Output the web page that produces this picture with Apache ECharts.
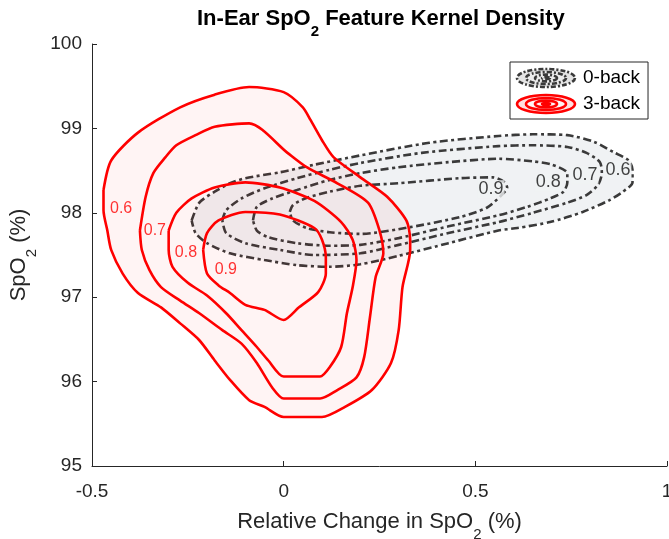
<!DOCTYPE html>
<html>
<head>
<meta charset="utf-8">
<script src="https://cdn.jsdelivr.net/npm/echarts@6/dist/echarts.min.js"></script>
<style>
  html, body { margin: 0; padding: 0; background: #fff; }
  #main { width: 669px; height: 539px; }
</style>
</head>
<body>
<div id="main"></div>
<script>
// contour rings, [relative change, SpO2]
var black06 = [[-0.24,97.91],[-0.22,98.12],[-0.18,98.25],[-0.14,98.35],[-0.10,98.41],[-0.01,98.48],[0.08,98.57],[0.20,98.68],[0.38,98.83],[0.56,98.91],[0.65,98.93],[0.74,98.92],[0.81,98.84],[0.86,98.72],[0.90,98.62],[0.91,98.51],[0.91,98.36],[0.885,98.25],[0.85,98.15],[0.78,98.01],[0.695,97.89],[0.61,97.82],[0.56,97.79],[0.43,97.64],[0.30,97.49],[0.20,97.39],[0.12,97.36],[0.035,97.38],[-0.05,97.44],[-0.14,97.52],[-0.20,97.64],[-0.23,97.76],[-0.24,97.91]];
var black07 = [[-0.16,97.91],[-0.15,98.03],[-0.11,98.17],[-0.05,98.29],[0.035,98.41],[0.12,98.51],[0.20,98.59],[0.36,98.71],[0.56,98.79],[0.65,98.80],[0.74,98.78],[0.79,98.71],[0.825,98.60],[0.83,98.47],[0.82,98.33],[0.79,98.21],[0.74,98.12],[0.65,98.00],[0.56,97.89],[0.43,97.76],[0.30,97.62],[0.20,97.52],[0.08,97.50],[-0.01,97.56],[-0.10,97.64],[-0.15,97.76],[-0.16,97.91]];
var black08 = [[-0.08,97.91],[-0.07,98.07],[-0.03,98.17],[0.035,98.27],[0.12,98.39],[0.20,98.47],[0.30,98.54],[0.43,98.60],[0.56,98.64],[0.65,98.61],[0.70,98.57],[0.74,98.47],[0.74,98.36],[0.73,98.25],[0.695,98.17],[0.635,98.07],[0.56,97.97],[0.43,97.84],[0.30,97.70],[0.20,97.62],[0.12,97.61],[0.035,97.64],[-0.04,97.71],[-0.07,97.79],[-0.08,97.91]];
var black09 = [[0.016,98.01],[0.024,98.09],[0.056,98.17],[0.12,98.25],[0.20,98.32],[0.30,98.35],[0.46,98.41],[0.546,98.42],[0.577,98.36],[0.583,98.30],[0.564,98.19],[0.53,98.06],[0.46,97.95],[0.33,97.83],[0.20,97.75],[0.12,97.77],[0.06,97.82],[0.024,97.91],[0.016,98.01]];

var red06 = [[-0.47,98.27],[-0.45,98.62],[-0.38,98.95],[-0.27,99.25],[-0.18,99.40],[-0.09,99.49],[0.00,99.43],[0.05,99.25],[0.07,99.10],[0.10,98.86],[0.13,98.66],[0.20,98.42],[0.27,98.19],[0.32,97.91],[0.33,97.68],[0.33,97.56],[0.31,97.12],[0.30,96.61],[0.28,96.22],[0.23,95.90],[0.16,95.70],[0.10,95.58],[0.00,95.58],[-0.05,95.70],[-0.09,95.78],[-0.14,96.02],[-0.18,96.25],[-0.22,96.49],[-0.27,96.69],[-0.32,96.88],[-0.38,97.05],[-0.42,97.28],[-0.45,97.56],[-0.46,97.79],[-0.47,98.03],[-0.47,98.27]];
var red07 = [[-0.375,97.79],[-0.36,98.19],[-0.34,98.47],[-0.31,98.65],[-0.28,98.80],[-0.23,98.92],[-0.18,99.02],[-0.09,99.06],[0.01,98.71],[0.06,98.54],[0.14,98.35],[0.22,98.12],[0.25,97.79],[0.26,97.52],[0.24,97.24],[0.225,96.76],[0.21,96.29],[0.19,96.05],[0.14,95.90],[0.095,95.80],[0.00,95.80],[-0.03,95.93],[-0.07,96.22],[-0.11,96.45],[-0.16,96.61],[-0.22,96.81],[-0.27,96.96],[-0.32,97.12],[-0.35,97.32],[-0.37,97.56],[-0.375,97.79]];
var red08 = [[-0.30,97.79],[-0.28,98.00],[-0.24,98.17],[-0.18,98.30],[-0.10,98.36],[-0.01,98.30],[0.08,98.14],[0.15,97.89],[0.18,97.68],[0.19,97.44],[0.18,97.12],[0.165,96.81],[0.15,96.41],[0.12,96.17],[0.095,96.06],[0.00,96.06],[-0.04,96.25],[-0.07,96.41],[-0.11,96.61],[-0.15,96.81],[-0.20,97.02],[-0.25,97.17],[-0.29,97.36],[-0.30,97.56],[-0.30,97.79]];
var red09 = [[-0.21,97.56],[-0.20,97.76],[-0.17,97.91],[-0.10,98.01],[-0.01,97.98],[0.08,97.82],[0.10,97.68],[0.11,97.47],[0.11,97.28],[0.09,97.06],[0.04,96.88],[0.00,96.73],[-0.05,96.85],[-0.10,96.91],[-0.14,97.05],[-0.17,97.14],[-0.20,97.28],[-0.21,97.56]];

// contour level labels [x, y, text]
var blackLabels = [[0.541,98.28,'0.9'],[0.69,98.36,'0.8'],[0.786,98.45,'0.7'],[0.872,98.51,'0.6']];
var redLabels = [[-0.424,98.05,'0.6'],[-0.336,97.79,'0.7'],[-0.255,97.53,'0.8'],[-0.151,97.33,'0.9']];

var xTicks = [-0.5, 0, 0.5, 1];
var yTicks = [95, 96, 97, 98, 99, 100];
var groupNames = ['0-back', '3-back'];

var FONT = 'Liberation Sans, Arial, Helvetica, sans-serif';
var AX = '#262626';
var BLK = '#3a3a3a';
var RED = '#ff0000';

function svgIcon(stroke, fill, inner, dash) {
  var d = dash ? ' stroke-dasharray="5 2 2 2"' : '';
  var s = '<svg xmlns="http://www.w3.org/2000/svg" width="64" height="22">' +
    '<g stroke="' + stroke + '" stroke-width="2.6"' + d + '>' +
    '<ellipse cx="32" cy="11" rx="29" ry="9" fill="' + fill + '"/>' +
    '<ellipse cx="32" cy="11" rx="20" ry="6" fill="' + inner + '"/>' +
    '<ellipse cx="32" cy="11" rx="11" ry="3.4" fill="' + inner + '"/>' +
    '<ellipse cx="32" cy="11" rx="4" ry="1" fill="' + inner + '"/>' +
    '</g></svg>';
  return 'image://data:image/svg+xml;charset=utf-8,' + encodeURIComponent(s);
}

function fillSeries(name, ring, color, z) {
  return {
    name: name,
    type: 'custom',
    z: z,
    clip: false,
    silent: true,
    data: [[0, 0]],
    renderItem: function (params, api) {
      var pts = ring.map(function (p) { return api.coord(p); });
      return { type: 'polygon', shape: { points: pts }, style: { fill: color } };
    }
  };
}

function ringSeries(name, ring, color, dash, z) {
  return {
    name: name,
    type: 'line',
    z: z,
    data: ring,
    smooth: 0.25,
    symbol: 'none',
    silent: true,
    lineStyle: { color: color, width: 2.6, type: dash ? [8, 3.5, 3, 3.5] : 'solid', cap: 'butt' }
  };
}

function labelSeries(list, color, bg, size, z) {
  return {
    type: 'scatter',
    z: z,
    symbolSize: 0,
    silent: true,
    data: list.map(function (d) { return { value: [d[0], d[1]], name: d[2] }; }),
    label: {
      show: true,
      position: 'inside',
      formatter: '{b}',
      color: color,
      fontSize: size,
      fontFamily: FONT,
      backgroundColor: bg,
      padding: [0, 1]
    }
  };
}

function subRich(size, subSize, weight, color) {
  return {
    n: { fontSize: size, fontWeight: weight, fontFamily: FONT, color: color, lineHeight: size + 4, verticalAlign: 'top' },
    s: { fontSize: subSize, fontWeight: weight, fontFamily: FONT, color: color, lineHeight: subSize, padding: [Math.round(size * 0.72), 0, 0, 0], verticalAlign: 'top' }
  };
}

var chart = echarts.init(document.getElementById('main'), null, { renderer: 'canvas' });

var series = [
  fillSeries(groupNames[0], black06, '#f0f2f4', 1),
  ringSeries(groupNames[0], black06, BLK, true, 2),
  ringSeries(groupNames[0], black07, BLK, true, 2),
  ringSeries(groupNames[0], black08, BLK, true, 2),
  ringSeries(groupNames[0], black09, BLK, true, 2),
  labelSeries(blackLabels, '#111', '#f0f2f4', 18, 3),
  fillSeries(groupNames[1], red06, 'rgba(255,0,0,0.045)', 4),
  ringSeries(groupNames[1], red06, RED, false, 5),
  ringSeries(groupNames[1], red07, RED, false, 5),
  ringSeries(groupNames[1], red08, RED, false, 5),
  ringSeries(groupNames[1], red09, RED, false, 5),
  labelSeries(redLabels, RED, null, 16, 6)
];

chart.setOption({
  animation: false,
  backgroundColor: '#fff',
  title: {
    text: '{n|In-Ear SpO}{s|2}{n| Feature Kernel Density}',
    left: 197,
    top: 8,
    padding: 0,
    textStyle: { rich: subRich(22, 15, 'bold', '#000') }
  },
  legend: {
    orient: 'vertical',
    left: 510,
    top: 62,
    padding: [5, 8, 4, 4],
    itemGap: 4,
    itemWidth: 64,
    itemHeight: 22,
    borderColor: AX,
    borderWidth: 1,
    backgroundColor: '#fff',
    textStyle: { fontSize: 19, fontFamily: FONT, color: '#000' },
    data: [
      { name: groupNames[0], icon: svgIcon(BLK, '#e4e4e4', '#ececec', true) },
      { name: groupNames[1], icon: svgIcon(RED, '#ffe0e0', '#fff4f4', false) }
    ]
  },
  grid: { left: 92, right: 2, top: 44, bottom: 73, containLabel: false, outerBoundsMode: 'none' },
  xAxis: {
    type: 'value',
    min: xTicks[0],
    max: xTicks[xTicks.length - 1],
    interval: 0.5,
    name: '{n|Relative Change in SpO}{s|2}{n| (%)}',
    nameLocation: 'middle',
    nameGap: 45,
    nameTextStyle: { rich: subRich(22, 15, 'normal', AX) },
    axisLine: { show: true, onZero: false, lineStyle: { color: AX, width: 1 } },
    axisTick: { show: true, inside: true, length: 5, lineStyle: { color: AX } },
    axisLabel: { fontSize: 19, fontFamily: FONT, color: AX, margin: 16 },
    splitLine: { show: false }
  },
  yAxis: {
    type: 'value',
    min: yTicks[0],
    max: yTicks[yTicks.length - 1],
    interval: 1,
    name: '{n|SpO}{s|2}{n| (%)}',
    nameLocation: 'middle',
    nameGap: 57,
    nameRotate: 90,
    nameTextStyle: { rich: subRich(22, 15, 'normal', AX) },
    axisLine: { show: true, onZero: false, lineStyle: { color: AX, width: 1 } },
    axisTick: { show: true, inside: true, length: 5, lineStyle: { color: AX } },
    axisLabel: { fontSize: 19, fontFamily: FONT, color: AX, margin: 10 },
    splitLine: { show: false }
  },
  series: series
});
</script>
</body>
</html>
